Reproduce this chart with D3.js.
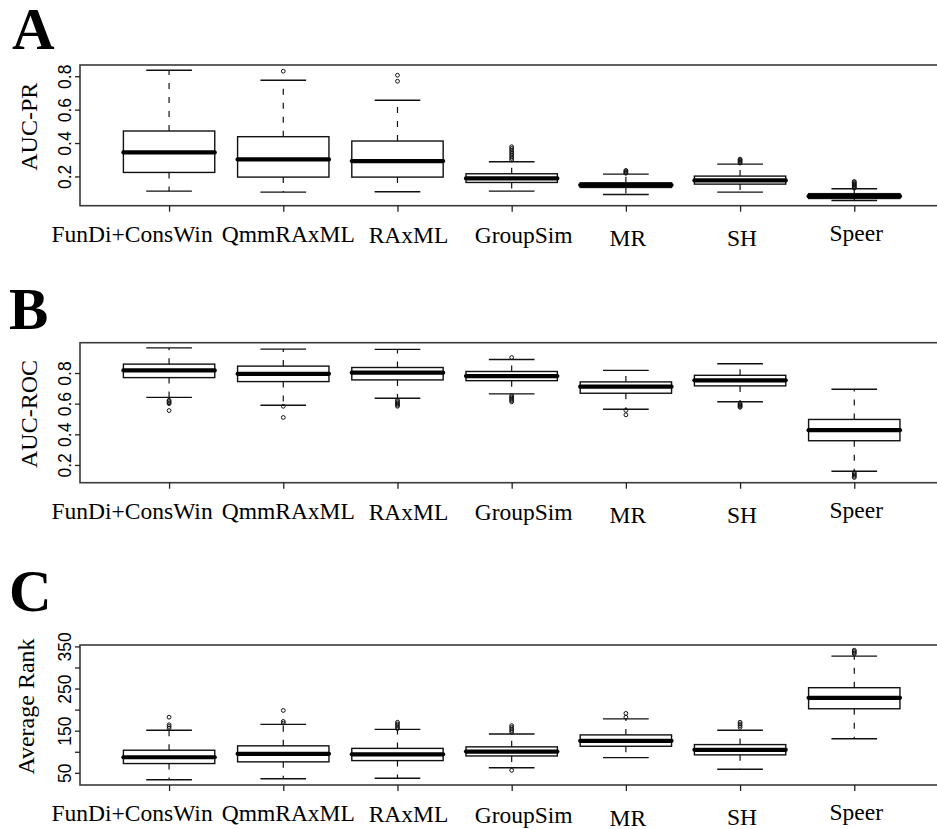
<!DOCTYPE html>
<meta charset="utf-8">
<style>
body {
  margin: 0;
  background: #fff;
}
svg {
  display: block;
}
.frame {
  fill: none;
  stroke: #3a3a3a;
  stroke-width: 1.6;
}
.box rect {
  fill: none;
  stroke: #111;
  stroke-width: 1.4;
}
.box .whisker {
  stroke: #111;
  stroke-width: 1.2;
  stroke-dasharray: 6,8;
}
.box .staple {
  stroke: #111;
  stroke-width: 1.4;
}
.box .median {
  stroke: #000;
  stroke-width: 4.2;
  stroke-linecap: round;
}
.box circle {
  fill: none;
  stroke: #111;
  stroke-width: 1;
}
.tick line {
  stroke: #222;
  stroke-width: 1.3;
}
.tick text {
  font-family: "Liberation Sans", Arial, sans-serif;
  font-size: 17.5px;
  fill: #000;
}
.cat, .ylab {
  font-family: "Liberation Serif", "Times New Roman", serif;
  font-size: 23.5px;
  fill: #000;
}
.ylab {
  font-size: 24px;
}
.letter {
  font-family: "Liberation Serif", "Times New Roman", serif;
  font-weight: bold;
  font-size: 59px;
  fill: #000;
}
</style>
<body>
<script src="https://cdn.jsdelivr.net/npm/d3@7"></script>
<script>

var width = 937,
    height = 829;

var categories = ["FunDi+ConsWin", "QmmRAxML", "RAxML", "GroupSim", "MR", "SH", "Speer"];

// A: AUC-PR
var prLow  = [0.112, 0.106, 0.108, 0.112, 0.092, 0.106, 0.056];
var prQ1   = [0.224, 0.196, 0.196, 0.164, 0.134, 0.154, 0.068];
var prMed  = [0.344, 0.302, 0.292, 0.188, 0.148, 0.176, 0.082];
var prQ3   = [0.472, 0.438, 0.412, 0.216, 0.162, 0.202, 0.097];
var prHigh = [0.836, 0.776, 0.656, 0.288, 0.214, 0.274, 0.126];
var prOut  = [[], [0.83], [0.806, 0.77],
  [0.378, 0.368, 0.358, 0.348, 0.338, 0.328, 0.318, 0.308, 0.298],
  [0.236, 0.23, 0.224, 0.219],
  [0.304, 0.298, 0.292, 0.286, 0.28],
  [0.17, 0.164, 0.158, 0.152, 0.146, 0.14, 0.134, 0.13]];
var prTicks = [0.2, 0.4, 0.6, 0.8];

// B: AUC-ROC
var rocLow  = [0.641, 0.59, 0.635, 0.664, 0.564, 0.612, 0.159];
var rocQ1   = [0.77, 0.744, 0.755, 0.75, 0.668, 0.716, 0.358];
var rocMed  = [0.817, 0.795, 0.802, 0.78, 0.711, 0.752, 0.427];
var rocQ3   = [0.858, 0.845, 0.836, 0.81, 0.742, 0.785, 0.497];
var rocHigh = [0.964, 0.956, 0.954, 0.888, 0.817, 0.86, 0.694];
var rocOut  = [[0.622, 0.614, 0.606, 0.6, 0.555],
  [0.583, 0.51],
  [0.622, 0.614, 0.606, 0.598, 0.59, 0.583],
  [0.901, 0.652, 0.644, 0.636, 0.628, 0.62, 0.612],
  [0.556, 0.527],
  [0.6, 0.594, 0.588, 0.582, 0.576],
  [0.15, 0.142, 0.134, 0.126, 0.118]];
var rocTicks = [0.2, 0.4, 0.6, 0.8];

// C: Average Rank
var rankLow  = [33.4, 36, 37, 62, 86, 58.5, 131];
var rankQ1   = [72, 76, 79, 90, 113, 92.6, 202];
var rankMed  = [87, 95, 94, 100.5, 126, 104.5, 228];
var rankQ3   = [103.6, 114, 108, 111.6, 140, 117, 252];
var rankHigh = [151, 165, 153, 142, 178, 151, 327];
var rankOut  = [[182, 164, 160, 156],
  [198, 172, 168],
  [170, 166, 162, 158, 155],
  [162, 158, 154, 150, 146, 56],
  [191, 182],
  [170, 166, 162, 158],
  [341, 338, 335, 332]];
var rankTicks = [50, 100, 150, 200, 250, 300, 350];
var rankTickLabels = [50, 150, 250, 350];

var panels = [
  {letter: "A", title: "AUC-PR", low: prLow, q1: prQ1, med: prMed, q3: prQ3, high: prHigh, out: prOut,
   ticks: prTicks, labelled: prTicks, fmt: d3.format(".1f"),
   top: 65, bottom: 205.7, letterX: 12, letterY: 49, titleX: 37, titleShift: -8.6},
  {letter: "B", title: "AUC-ROC", low: rocLow, q1: rocQ1, med: rocMed, q3: rocQ3, high: rocHigh, out: rocOut,
   ticks: rocTicks, labelled: rocTicks, fmt: d3.format(".1f"),
   top: 342.7, bottom: 482.7, letterX: 9, letterY: 329, titleX: 37, titleShift: 1.3},
  {letter: "C", title: "Average Rank", low: rankLow, q1: rankQ1, med: rankMed, q3: rankQ3, high: rankHigh, out: rankOut,
   ticks: rankTicks, labelled: rankTickLabels, fmt: d3.format("d"),
   top: 645, bottom: 785, letterX: 9, letterY: 611, titleX: 33.5, titleShift: -8.5}
];

// label nudges the original figure used under the ticks
var labelDx = [-37, 5, 11, 12, 2, 2, 2];
var labelDy = [0, 0, 1, 1.5, 4.5, 4, -1];

var svg = d3.select("body").append("svg")
    .attr("width", width)
    .attr("height", height);

// R-style x limits: 0.5..n+0.5 extended by 4%
var n = categories.length;
var ext = n * 0.04;
var x = d3.scaleLinear()
    .domain([0.5 - ext, n + 0.5 + ext])
    .range([80, 80 + (n + 2 * ext) * 114.2]);
var boxW = x(0.8) - x(0);

panels.forEach(function(p) {
  var all = p.low.concat(p.high, d3.merge(p.out));
  var lo = d3.min(all), hi = d3.max(all), pad = (hi - lo) * 0.04;
  var y = d3.scaleLinear()
      .domain([lo - pad, hi + pad])
      .range([p.bottom, p.top]);

  var g = svg.append("g");

  g.append("rect")
      .attr("class", "frame")
      .attr("x", x.range()[0])
      .attr("y", p.top)
      .attr("width", x.range()[1] - x.range()[0])
      .attr("height", p.bottom - p.top);

  var stats = categories.map(function(c, i) {
    return {i: i + 1, low: p.low[i], q1: p.q1[i], med: p.med[i], q3: p.q3[i], high: p.high[i], out: p.out[i]};
  });

  var box = g.selectAll(".box")
      .data(stats)
    .enter().append("g")
      .attr("class", "box");

  box.append("line").attr("class", "whisker")
      .attr("x1", function(d) { return x(d.i); })
      .attr("x2", function(d) { return x(d.i); })
      .attr("y1", function(d) { return y(d.q3); })
      .attr("y2", function(d) { return y(d.high); });
  box.append("line").attr("class", "whisker")
      .attr("x1", function(d) { return x(d.i); })
      .attr("x2", function(d) { return x(d.i); })
      .attr("y1", function(d) { return y(d.q1); })
      .attr("y2", function(d) { return y(d.low); });

  ["high", "low"].forEach(function(k) {
    box.append("line").attr("class", "staple")
        .attr("x1", function(d) { return x(d.i) - boxW / 4; })
        .attr("x2", function(d) { return x(d.i) + boxW / 4; })
        .attr("y1", function(d) { return y(d[k]); })
        .attr("y2", function(d) { return y(d[k]); });
  });

  box.append("rect")
      .attr("x", function(d) { return x(d.i) - boxW / 2; })
      .attr("y", function(d) { return y(d.q3); })
      .attr("width", boxW)
      .attr("height", function(d) { return y(d.q1) - y(d.q3); });

  box.append("line").attr("class", "median")
      .attr("x1", function(d) { return x(d.i) - boxW / 2; })
      .attr("x2", function(d) { return x(d.i) + boxW / 2; })
      .attr("y1", function(d) { return y(d.med); })
      .attr("y2", function(d) { return y(d.med); });

  box.selectAll("circle")
      .data(function(d) { return d.out.map(function(v) { return {i: d.i, v: v}; }); })
    .enter().append("circle")
      .attr("cx", function(d) { return x(d.i); })
      .attr("cy", function(d) { return y(d.v); })
      .attr("r", 1.9);

  // y axis
  var yAxis = g.append("g")
      .attr("transform", "translate(" + x.range()[0] + ",0)")
      .call(d3.axisLeft(y)
        .tickValues(p.ticks)
        .tickSize(5)
        .tickSizeOuter(0)
        .tickFormat(function(d) { return p.labelled.indexOf(d) >= 0 ? p.fmt(d) : ""; }));
  yAxis.select(".domain").remove();
  yAxis.selectAll("text")
      .attr("x", null)
      .attr("dy", null)
      .attr("text-anchor", "middle")
      .attr("transform", "translate(-9.5,0) rotate(-90)");

  // x axis ticks
  var xAxis = g.append("g")
      .attr("transform", "translate(0," + p.bottom + ")")
      .call(d3.axisBottom(x)
        .tickValues(d3.range(1, n + 1))
        .tickSize(6)
        .tickSizeOuter(0)
        .tickFormat(""));
  xAxis.select(".domain").remove();

  g.selectAll(".cat")
      .data(categories)
    .enter().append("text")
      .attr("class", "cat")
      .attr("text-anchor", "middle")
      .attr("x", function(d, i) { return x(i + 1) + labelDx[i]; })
      .attr("y", function(d, i) { return p.bottom + 36 + labelDy[i]; })
      .text(function(d) { return d; });

  g.append("text")
      .attr("class", "ylab")
      .attr("text-anchor", "middle")
      .attr("transform", "translate(" + p.titleX + "," + ((p.top + p.bottom) / 2 + p.titleShift) + ") rotate(-90)")
      .text(p.title);

  g.append("text")
      .attr("class", "letter")
      .attr("x", p.letterX)
      .attr("y", p.letterY)
      .text(p.letter);
});

</script>
